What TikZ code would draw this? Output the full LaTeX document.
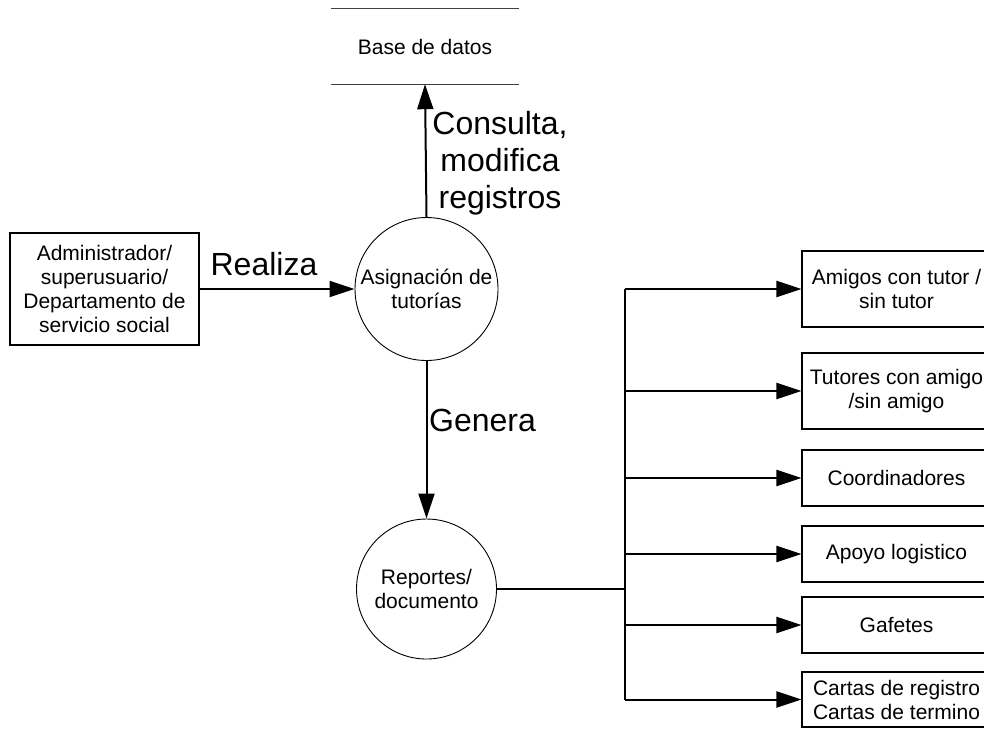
\documentclass[tikz,border=0pt]{standalone}
\usepackage{fontspec}
\setmainfont{Liberation Sans}
\usetikzlibrary{arrows.meta}
\begin{document}
\begin{tikzpicture}[x=1pt,y=-1pt,
  every node/.style={font=\fontsize{21}{24}\selectfont, align=center, inner sep=0pt},
  process/.style={draw, circle, line width=0.9pt},
  entity/.style={draw, rectangle, line width=1.1pt, minimum width=189pt},
  flowlabel/.style={font=\fontsize{32}{37}\selectfont},
  flow/.style={line width=2pt, -{Triangle[length=25pt,width=16pt]}},
  wire/.style={line width=2pt}]
  \useasboundingbox (0,0) rectangle (984,729);
  \clip (0,0) rectangle (984,729);

  % data store
  \node (db) at (425,46.5) [minimum width=188pt, minimum height=75pt] {Base de datos};
  \draw[line width=1.1pt, black!75] (db.north west) -- (db.north east)
                                    (db.south west) -- (db.south east);

  % external entity and processes
  \node[entity, minimum height=112pt] (admin) at (104.5,289)
    {Administrador/\\superusuario/\\Departamento de\\servicio social};
  \node[process, minimum size=143pt] (asig) at (426.5,289) {Asignación de\\tutorías};
  \node[process, minimum size=140pt] (rep) at (426.5,589) {Reportes/\\documento};

  % outputs
  \node[entity, minimum height=76pt] (o1) at (896.5,289) {Amigos con tutor /\\sin tutor};
  \node[entity, minimum height=76pt] (o2) at (896.5,391) {Tutores con amigo\\/sin amigo};
  \node[entity, minimum height=56pt] (o3) at (896.5,478) {Coordinadores};
  \node[entity, minimum height=56pt] (o4) at (896.5,554) {Apoyo logistico};
  \node[entity, minimum height=56pt] (o5) at (896.5,625) {Gafetes};
  \node[entity, minimum height=55pt] (o6) at (896.5,699.5) {Cartas de registro\\Cartas de termino};

  % flows
  \draw[flow] (admin.east) -- (asig.west);
  \draw[flow] (asig.north) -- (db.south);
  \draw[flow] (asig.south) -- (rep.north);

  \node[flowlabel, anchor=base] (lreal) at (264,275) {Realiza};
  \node[flowlabel] (lcons) at (500,163) {Consulta,\\modifica\\registros};
  \node[flowlabel, anchor=base west] (lgen) at (429,431) {Genera};

  % distribution trunk
  \coordinate (top) at (625,289);
  \coordinate (bot) at (625,699.5);
  \coordinate (join) at (625,589);
  \draw[wire] (rep.east) -- (join);
  \draw[wire] (top) -- (bot);
  \foreach \o in {o1,o2,o3,o4,o5,o6}
    \draw[flow] (top |- \o.west) -- (\o.west);
\end{tikzpicture}
\end{document}
